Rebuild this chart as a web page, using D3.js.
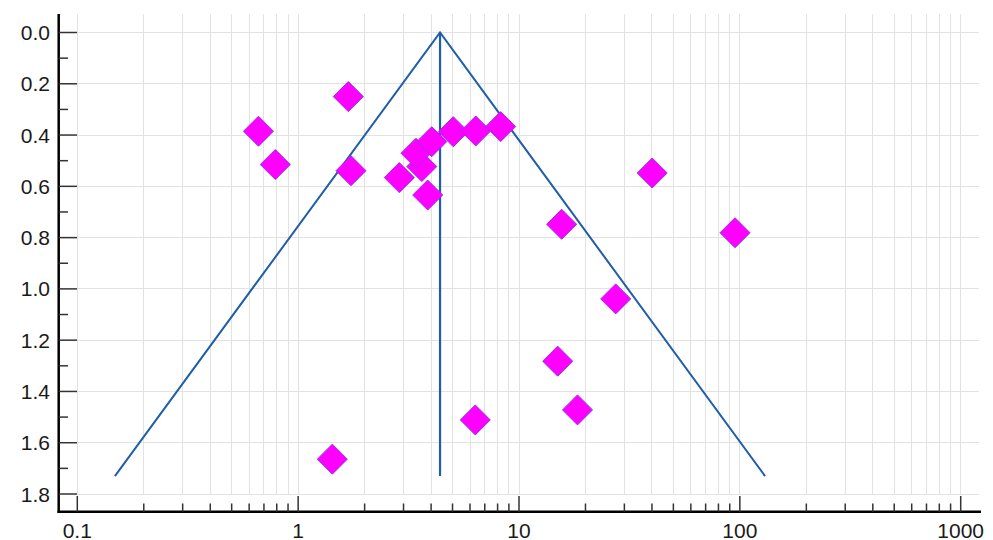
<!DOCTYPE html>
<html>
<head>
<meta charset="utf-8">
<script src="https://cdn.jsdelivr.net/npm/d3@7"></script>
<style>
  html, body { margin: 0; padding: 0; background: #ffffff; }
  svg { display: block; }
  text { font-family: "Liberation Sans", Arial, sans-serif; fill: #1a1a1a; }
</style>
</head>
<body>
<svg id="chart" width="993" height="540"></svg>
<script>
// Study effect estimates (x, log scale) and standard errors (y, reversed)
const effectValues = [0.661, 0.788, 1.687, 1.735, 2.871, 3.86, 3.63, 3.417, 4.025, 5.04, 6.37, 8.26, 15.6, 40.1, 95.1, 27.4, 14.97, 18.4, 6.34, 1.428];
const seValues     = [0.385, 0.515, 0.250, 0.539, 0.566, 0.634, 0.523, 0.471, 0.426, 0.387, 0.384, 0.367, 0.748, 0.548, 0.781, 1.039, 1.282, 1.472, 1.511, 1.664];

// Funnel (pseudo 95% confidence limits) and pooled estimate line
const funnelX = [0.148, 4.39, 130];
const funnelY = [1.73, 0, 1.73];
const pooledX = [4.39, 4.39];
const pooledY = [0, 1.73];

// Axis tick labels
const xTickValues = [0.1, 1, 10, 100, 1000];
const xTickLabels = ["0.1", "1", "10", "100", "1000"];
const yTickValues = [0, 0.2, 0.4, 0.6, 0.8, 1.0, 1.2, 1.4, 1.6, 1.8];
const yTickLabels = ["0.0", "0.2", "0.4", "0.6", "0.8", "1.0", "1.2", "1.4", "1.6", "1.8"];

const svg = d3.select("#chart");

const x = d3.scaleLog().domain([0.1, 1000]).range([77.3, 960.7]);
const y = d3.scaleLinear().domain([0, 1.8]).range([32.5, 494]);

const axisLeftX = 58.7, axisBottomY = 511.7;
const plotTop = 14, plotRight = 979;

// minor log ticks
const xMinor = [];
for (let e = -1; e < 3; e++) for (let k = 2; k <= 9; k++) xMinor.push(k * Math.pow(10, e));
const xAll = xTickValues.concat(xMinor);
const yMinor = d3.range(0.1, 1.8, 0.2);

// gridlines
const grid = svg.append("g").attr("stroke", "#e2e2e2").attr("stroke-width", 1).attr("shape-rendering", "crispEdges");
grid.selectAll("line.v").data(xAll).join("line")
  .attr("x1", d => x(d)).attr("x2", d => x(d))
  .attr("y1", plotTop).attr("y2", y(1.8));
grid.selectAll("line.h").data(yTickValues).join("line")
  .attr("x1", x(0.1)).attr("x2", plotRight)
  .attr("y1", d => y(d)).attr("y2", d => y(d));

// axes lines
svg.append("line").attr("x1", axisLeftX).attr("x2", axisLeftX).attr("y1", plotTop).attr("y2", axisBottomY + 1.2)
  .attr("stroke", "#000").attr("stroke-width", 2.5);
svg.append("line").attr("x1", axisLeftX - 1.2).attr("x2", plotRight + 2).attr("y1", axisBottomY).attr("y2", axisBottomY)
  .attr("stroke", "#000").attr("stroke-width", 2.5);

// y ticks (inward)
const yt = svg.append("g").attr("stroke", "#333").attr("stroke-width", 1.5);
yt.selectAll("line.maj").data(yTickValues).join("line")
  .attr("x1", axisLeftX).attr("x2", 77).attr("y1", d => y(d)).attr("y2", d => y(d));
yt.selectAll("line.min").data(yMinor).join("line")
  .attr("x1", axisLeftX).attr("x2", 68).attr("y1", d => y(d)).attr("y2", d => y(d));

// x ticks (inward)
const xt = svg.append("g").attr("stroke", "#333").attr("stroke-width", 1.5);
xt.selectAll("line.maj").data(xTickValues).join("line")
  .attr("x1", d => x(d)).attr("x2", d => x(d)).attr("y1", axisBottomY).attr("y2", 496);
xt.selectAll("line.min").data(xMinor).join("line")
  .attr("x1", d => x(d)).attr("x2", d => x(d)).attr("y1", axisBottomY).attr("y2", 503.5);

// labels
svg.append("g").selectAll("text").data(yTickValues).join("text")
  .attr("x", 50).attr("y", d => y(d)).attr("dy", "0.36em")
  .attr("text-anchor", "end").attr("font-size", 21)
  .text((d, i) => yTickLabels[i]);
svg.append("g").selectAll("text").data(xTickValues).join("text")
  .attr("x", d => x(d)).attr("y", 537.5)
  .attr("text-anchor", "middle").attr("font-size", 21)
  .text((d, i) => xTickLabels[i]);

// funnel lines
const lineGen = d3.line().x(d => x(d[0])).y(d => y(d[1]));
svg.append("path").datum(d3.zip(funnelX, funnelY)).attr("d", lineGen)
  .attr("fill", "none").attr("stroke", "#1f5ea8").attr("stroke-width", 2);
svg.append("path").datum(d3.zip(pooledX, pooledY)).attr("d", lineGen)
  .attr("fill", "none").attr("stroke", "#1f5ea8").attr("stroke-width", 2.2);

// points (diamonds)
const r = 15;
svg.append("g").selectAll("path").data(d3.zip(effectValues, seValues)).join("path")
  .attr("d", d => {
    const cx = x(d[0]), cy = y(d[1]);
    return `M${cx},${cy - r}L${cx + r},${cy}L${cx},${cy + r}L${cx - r},${cy}Z`;
  })
  .attr("fill", "#ff00ff").attr("stroke", "#9a2cf0").attr("stroke-width", 1);
</script>
</body>
</html>
